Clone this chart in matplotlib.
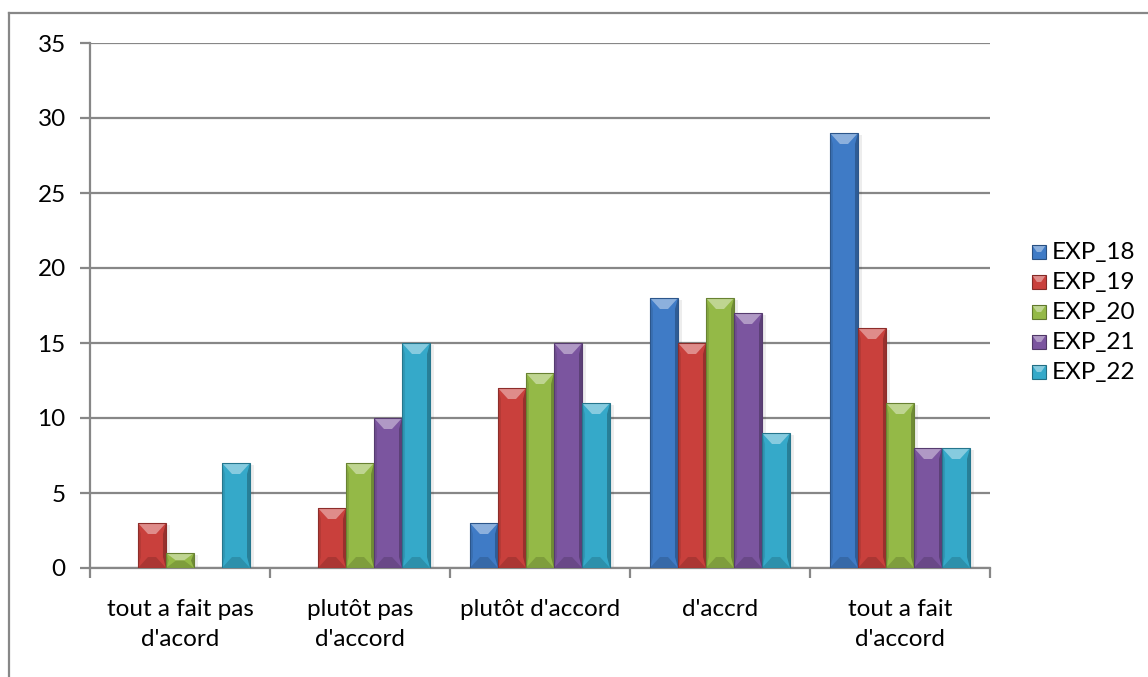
import matplotlib.pyplot as plt
import numpy as np
from matplotlib.lines import Line2D
from matplotlib.patches import Polygon, Rectangle

plt.rcParams["font.family"] = ["Lato", "DejaVu Sans"]

categories = ["tout a fait pas\nd'acord", "plutôt pas\nd'accord", "plutôt d'accord",
              "d'accrd", "tout a fait\nd'accord"]
series = ["EXP_18", "EXP_19", "EXP_20", "EXP_21", "EXP_22"]
exp_18 = [0, 0, 3, 18, 29]
exp_19 = [3, 4, 12, 15, 16]
exp_20 = [1, 7, 13, 18, 11]
exp_21 = [0, 10, 15, 17, 8]
exp_22 = [7, 15, 11, 9, 8]
values = [exp_18, exp_19, exp_20, exp_21, exp_22]
colors = ["#3f7bc6", "#c9403c", "#94b947", "#7b559f", "#35a9c9"]

W, H = 1148, 677
fig = plt.figure(figsize=(W / 100, H / 100), dpi=100)
ax = fig.add_axes([90 / W, 1 - 568 / H, 900 / W, 525 / H])

ymax = 35
ax.set_xlim(-0.5, 4.5)
ax.set_ylim(0, ymax)

# pixel -> data unit conversion for the bevel shapes
px_x = 5 / 900
px_y = ymax / 525

bar_w = 0.1556
x = np.arange(len(categories))
fs = 17.5


def shade(c, f):
    rgb = np.array(plt.matplotlib.colors.to_rgb(c))
    if f >= 0:
        rgb = rgb + (1 - rgb) * f
    else:
        rgb = rgb * (1 + f)
    return tuple(np.clip(rgb, 0, 1))


def bevel_bar(x0, h, c):
    if h <= 0:
        return
    x1 = x0 + bar_w
    # soft shadow to the right
    ax.add_patch(Rectangle((x1, 0), 4 * px_x, h - 2 * px_y, color="#000000",
                           alpha=0.07, lw=0, zorder=2))
    ax.add_patch(Rectangle((x0, 0), bar_w, h, color=c, lw=0, zorder=3))
    bx = 10 * px_x
    by = min(11 * px_y, h / 2)
    # left / right faces
    ax.add_patch(Polygon([(x0, 0), (x0 + 3 * px_x, by), (x0 + 3 * px_x, h - by), (x0, h)],
                         color=shade(c, -0.1), lw=0, zorder=4))
    ax.add_patch(Polygon([(x1, 0), (x1 - 3 * px_x, by), (x1 - 3 * px_x, h - by), (x1, h)],
                         color=shade(c, -0.25), lw=0, zorder=4))
    # top face
    ax.add_patch(Polygon([(x0, h), (x1, h), (x1 - bx, h - by), (x0 + bx, h - by)],
                         color=shade(c, 0.4), lw=0, zorder=4))
    # bottom face
    ax.add_patch(Polygon([(x0, 0), (x1, 0), (x1 - bx, by), (x0 + bx, by)],
                         color=shade(c, -0.15), lw=0, zorder=4))
    ax.add_patch(Rectangle((x0, 0), bar_w, h, fill=False, ec=shade(c, -0.3),
                           lw=0.8, zorder=5))


for i, (vals, c) in enumerate(zip(values, colors)):
    for xi, v in zip(x, vals):
        bevel_bar(xi + (i - 2.5) * bar_w, v, c)

grey = "#878787"
ax.set_yticks(range(0, ymax + 1, 5))
ax.yaxis.grid(True, color=grey, lw=1.6)
ax.set_axisbelow(True)
ax.tick_params(axis="y", length=7, width=1.6, color=grey, pad=10.5, labelsize=fs)

ax.set_xticks(x)
ax.set_xticklabels(categories, fontsize=fs, linespacing=1.55)
ax.set_xticks(np.arange(-0.5, 5, 1), minor=True)
ax.tick_params(axis="x", which="major", length=0, pad=22)
ax.tick_params(axis="x", which="minor", length=7, width=1.6, color=grey)

for side in ["top", "right"]:
    ax.spines[side].set_visible(False)
for side in ["left", "bottom"]:
    ax.spines[side].set_color(grey)
    ax.spines[side].set_linewidth(1.6)

# legend with bevelled squares
for i, (name, c) in enumerate(zip(series, colors)):
    yc = 1 - (252 + 30 * i) / H
    x0, s = 1032 / W, 14
    sw, sh = s / W, s / H
    fig.add_artist(Rectangle((x0, yc - sh / 2), sw, sh, color=c, lw=0,
                             transform=fig.transFigure))
    fig.add_artist(Polygon([(x0, yc + sh / 2), (x0 + sw, yc + sh / 2),
                            (x0 + sw * 0.65, yc), (x0 + sw * 0.35, yc)],
                           color=shade(c, 0.4), lw=0, transform=fig.transFigure))
    fig.add_artist(Rectangle((x0, yc - sh / 2), sw, sh, fill=False, ec=shade(c, -0.35),
                             lw=0.8, transform=fig.transFigure))
    fig.text(1052 / W, yc, name, fontsize=fs, va="center", ha="left")

# chart border
fig.add_artist(Line2D([9 / W, 9 / W], [0, 1 - 13 / H], color=grey, lw=1.6))
fig.add_artist(Line2D([9 / W, 1], [1 - 13 / H, 1 - 13 / H], color=grey, lw=1.6))

fig.savefig("out.png", dpi=100)
